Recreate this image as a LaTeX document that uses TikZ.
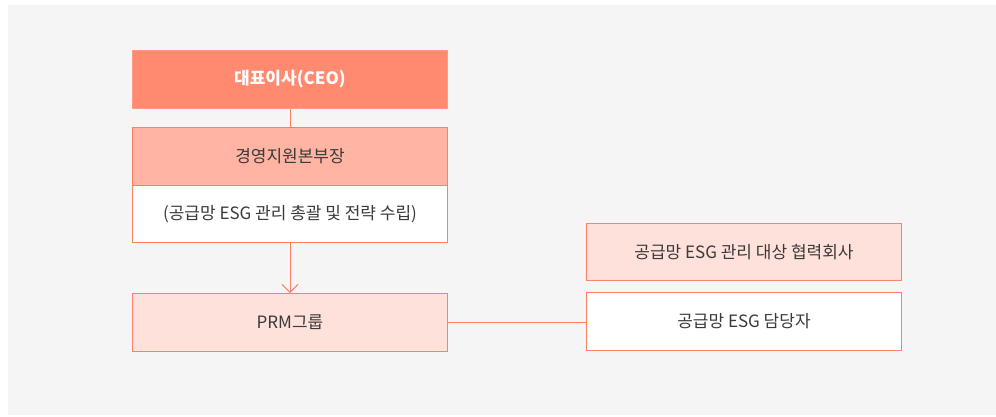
\documentclass[tikz,border=0pt]{standalone}
\usepackage{fontspec}
\setmainfont{Noto Sans CJK KR}
\usetikzlibrary{arrows.meta}
\definecolor{bggray}{HTML}{F5F5F5}
\definecolor{ceofill}{HTML}{FF8A70}
\definecolor{ceoline}{HTML}{FF9C86}
\definecolor{midfill}{HTML}{FFB4A4}
\definecolor{palefill}{HTML}{FFE1DB}
\definecolor{edge}{HTML}{FF8066}
\definecolor{txt}{HTML}{3A3A3A}
\tikzset{
  box/.style={draw=edge, line width=1pt, minimum width=315pt, minimum height=58pt, inner sep=0pt, text=txt, font=\fontsize{17}{20}\selectfont, anchor=north west},
  ceobox/.style={box, fill=ceofill, draw=ceoline, text=white, font=\fontsize{17}{20}\selectfont\bfseries},
  midbox/.style={box, fill=midfill},
  palebox/.style={box, fill=palefill},
  whitebox/.style={box, fill=white, minimum height=57pt},
  link/.style={draw=edge, line width=1pt},
}
\begin{document}
\begin{tikzpicture}[x=1pt,y=-1pt]
\useasboundingbox (0,0) rectangle (996,416);
\fill[bggray] (8,5) rectangle (996,415);
\node[ceobox] (ceo) at (132,50) {대표이사(CEO)};
\node[midbox] (mgmt) at (132,127) {경영지원본부장};
\node[whitebox] (role) at (132,185) {(공급망 ESG 관리 총괄 및 전략 수립)};
\node[palebox] (prm) at (132,293) {PRM그룹};
\node[palebox, minimum height=57pt] (partner) at (586,223) {공급망 ESG 관리 대상 협력회사};
\node[whitebox, minimum height=58pt] (contact) at (586,292) {공급망 ESG 담당자};
\draw[link] (ceo.south) -- (mgmt.north);
\draw[link, -{Straight Barb[length=8pt,width=16pt]}] (role.south) -- (prm.north);
\draw[link] (prm.east) -- (prm.east -| contact.west);
\end{tikzpicture}
\end{document}
